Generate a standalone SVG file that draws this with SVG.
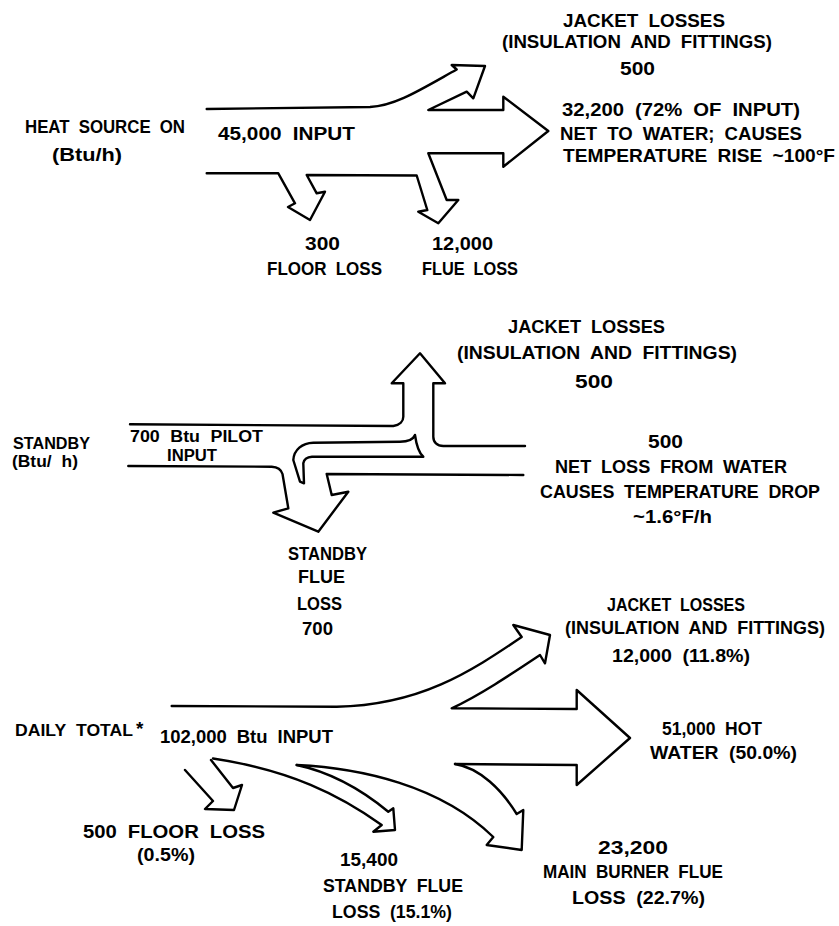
<svg xmlns="http://www.w3.org/2000/svg" width="839" height="926" viewBox="0 0 839 926">
<style>
.fl{fill:none;stroke:#000;stroke-width:2.4;stroke-linejoin:round;stroke-linecap:round}
.t{font-family:"Liberation Sans",Arial,sans-serif;font-weight:bold;font-size:19px;word-spacing:5px;fill:#000}
.s{font-size:16px}
.m{font-size:17px}
</style>
<rect width="839" height="926" fill="#fff"/>

<!-- ===== Connectors / flow outlines ===== -->
<g id="connectors">
  <!-- Heat source on -->
  <path class="fl" d="M206.7,109 L370,107 C395,106 420,90 456.7,69.5 L451.7,65 L485,66 L473.3,98.3 L466.7,91.7 L428.3,110 L503.3,110 L503.3,96.7 L548.3,131 L503.3,166.7 L503.3,153.3 L428.3,153.3 L446.7,200 L458.3,200 L438.3,223.3 L418.3,211.7 L427.3,210 L416.7,175.5 L306.7,175 L316.7,193.3 L325,191.7 L310,220 L288,207 L295,203.3 L278.3,173.3 L206.7,173.3"/>
  <!-- Standby -->
  <path class="fl" d="M130,424.3 L393.3,426 C400,425 403.3,421 403.3,416.7 L403.3,383.3 L391.7,383.3 L420,353.3 L445,383.3 L433.3,383.3 L433.3,436.7 C433.3,442 437,446 443.3,446 L525,446"/>
  <path class="fl" d="M128.3,466 L271.7,466.7 C277,467 281,469 282.5,474 L288.3,508.3 L273.3,512.7 L318.3,531.7 L348.3,491.7 L331.7,495 L326.7,474 L523.3,475"/>
  <path class="fl" d="M415,435 C413,440 408,441.7 400,441.7 L313.3,442.7 C302,443 294,450 293.3,460 L300,481.7 L304,483.3 L303.3,463.3 C304,459 307,457 312,456.7 L423.3,456.7 C419,453 416.5,446 415,435 Z"/>
  <!-- Daily total -->
  <path class="fl" d="M171.7,706 L336.7,706.7 C420,705 470,672 521.7,637 L513.3,625 L550,635 L545,663.3 L540,655 C510,675 480,695 451.7,708.3 L576.7,709 L576.7,690 L630,738 L576.7,785 L576.7,765 L455,764"/>
  <path class="fl" d="M455,764 C480,768 502,790 516.7,814 L523.3,810 L521.7,850 L486.7,845 L493.3,837 C440,785 360,768 296.7,765"/>
  <path class="fl" d="M296.7,765 C330,772 362,790 388.3,811.7 L393.3,808.3 L395,830 L373.3,831.7 L381.7,825 C340,795 290,770 213,758.5"/>
  <path class="fl" d="M185,770 L213,801 L205,809 L234,810 L242,785 L233,788 L211,760"/>
</g>

<!-- ===== Heat source on ===== -->
<g id="heat-source-on">
  <text class="t" x="25" y="133" textLength="160" lengthAdjust="spacingAndGlyphs">HEAT SOURCE ON</text>
  <text class="t" x="52" y="161" textLength="70" lengthAdjust="spacingAndGlyphs">(Btu/h)</text>
  <text class="t" x="218" y="140" textLength="137" lengthAdjust="spacingAndGlyphs">45,000 INPUT</text>
</g>
<g id="hs-jacket">
  <text class="t" x="563" y="27" textLength="162" lengthAdjust="spacingAndGlyphs">JACKET LOSSES</text>
  <text class="t" x="502" y="48" textLength="270" lengthAdjust="spacingAndGlyphs">(INSULATION AND FITTINGS)</text>
  <text class="t" x="620" y="75" textLength="35" lengthAdjust="spacingAndGlyphs">500</text>
</g>
<g id="hs-water">
  <text class="t" x="562" y="116" textLength="238" lengthAdjust="spacingAndGlyphs">32,200 (72% OF INPUT)</text>
  <text class="t" x="560" y="140" textLength="242" lengthAdjust="spacingAndGlyphs">NET TO WATER; CAUSES</text>
  <text class="t" x="563" y="162" textLength="272" lengthAdjust="spacingAndGlyphs">TEMPERATURE RISE  ~100°F</text>
</g>
<g id="hs-floor">
  <text class="t" x="305" y="250" textLength="35" lengthAdjust="spacingAndGlyphs">300</text>
  <text class="t" x="267" y="275" textLength="115" lengthAdjust="spacingAndGlyphs">FLOOR LOSS</text>
</g>
<g id="hs-flue">
  <text class="t" x="432" y="250" textLength="61" lengthAdjust="spacingAndGlyphs">12,000</text>
  <text class="t" x="422" y="275" textLength="96" lengthAdjust="spacingAndGlyphs">FLUE LOSS</text>
</g>

<!-- ===== Standby ===== -->
<g id="standby">
  <text class="t m" x="13" y="449" textLength="77" lengthAdjust="spacingAndGlyphs">STANDBY</text>
  <text class="t m" x="12" y="467" textLength="66" lengthAdjust="spacingAndGlyphs">(Btu/ h)</text>
  <text class="t s" x="130" y="442" textLength="133" lengthAdjust="spacingAndGlyphs">700 Btu PILOT</text>
  <text class="t s" x="167" y="461" textLength="50" lengthAdjust="spacingAndGlyphs">INPUT</text>
</g>
<g id="sb-jacket">
  <text class="t" x="508" y="333" textLength="157" lengthAdjust="spacingAndGlyphs">JACKET LOSSES</text>
  <text class="t" x="457" y="359" textLength="280" lengthAdjust="spacingAndGlyphs">(INSULATION AND FITTINGS)</text>
  <text class="t" x="575" y="388" textLength="38" lengthAdjust="spacingAndGlyphs">500</text>
</g>
<g id="sb-water">
  <text class="t" x="648" y="448" textLength="35" lengthAdjust="spacingAndGlyphs">500</text>
  <text class="t" x="555" y="473" textLength="232" lengthAdjust="spacingAndGlyphs">NET LOSS FROM WATER</text>
  <text class="t" x="540" y="498" textLength="280" lengthAdjust="spacingAndGlyphs">CAUSES TEMPERATURE DROP</text>
  <text class="t" x="633" y="523" textLength="79" lengthAdjust="spacingAndGlyphs">~1.6°F/h</text>
</g>
<g id="sb-flue">
  <text class="t" x="288" y="560" textLength="79" lengthAdjust="spacingAndGlyphs">STANDBY</text>
  <text class="t" x="298" y="583" textLength="47" lengthAdjust="spacingAndGlyphs">FLUE</text>
  <text class="t" x="297" y="610" textLength="45" lengthAdjust="spacingAndGlyphs">LOSS</text>
  <text class="t" x="302" y="635" textLength="31" lengthAdjust="spacingAndGlyphs">700</text>
</g>

<!-- ===== Daily total ===== -->
<g id="daily-total">
  <text class="t m" x="15" y="736" textLength="118" lengthAdjust="spacingAndGlyphs">DAILY TOTAL</text>
  <text class="t" x="136" y="735">*</text>
  <text class="t" x="160" y="743" textLength="173" lengthAdjust="spacingAndGlyphs">102,000 Btu INPUT</text>
</g>
<g id="dt-jacket">
  <text class="t" x="607" y="611" textLength="138" lengthAdjust="spacingAndGlyphs">JACKET LOSSES</text>
  <text class="t" x="565" y="634" textLength="260" lengthAdjust="spacingAndGlyphs">(INSULATION AND FITTINGS)</text>
  <text class="t" x="612" y="662" textLength="138" lengthAdjust="spacingAndGlyphs">12,000 (11.8%)</text>
</g>
<g id="dt-water">
  <text class="t" x="662" y="735" textLength="100" lengthAdjust="spacingAndGlyphs">51,000 HOT</text>
  <text class="t" x="650" y="759" textLength="147" lengthAdjust="spacingAndGlyphs">WATER (50.0%)</text>
</g>
<g id="dt-floor">
  <text class="t" x="83" y="838" textLength="182" lengthAdjust="spacingAndGlyphs">500 FLOOR LOSS</text>
  <text class="t" x="137" y="861" textLength="58" lengthAdjust="spacingAndGlyphs">(0.5%)</text>
</g>
<g id="dt-standby-flue">
  <text class="t" x="340" y="866" textLength="58" lengthAdjust="spacingAndGlyphs">15,400</text>
  <text class="t" x="323" y="892" textLength="140" lengthAdjust="spacingAndGlyphs">STANDBY FLUE</text>
  <text class="t" x="332" y="918" textLength="120" lengthAdjust="spacingAndGlyphs">LOSS (15.1%)</text>
</g>
<g id="dt-main-flue">
  <text class="t" x="598" y="854" textLength="70" lengthAdjust="spacingAndGlyphs">23,200</text>
  <text class="t" x="543" y="878" textLength="180" lengthAdjust="spacingAndGlyphs">MAIN BURNER FLUE</text>
  <text class="t" x="572" y="904" textLength="133" lengthAdjust="spacingAndGlyphs">LOSS (22.7%)</text>
</g>
</svg>
